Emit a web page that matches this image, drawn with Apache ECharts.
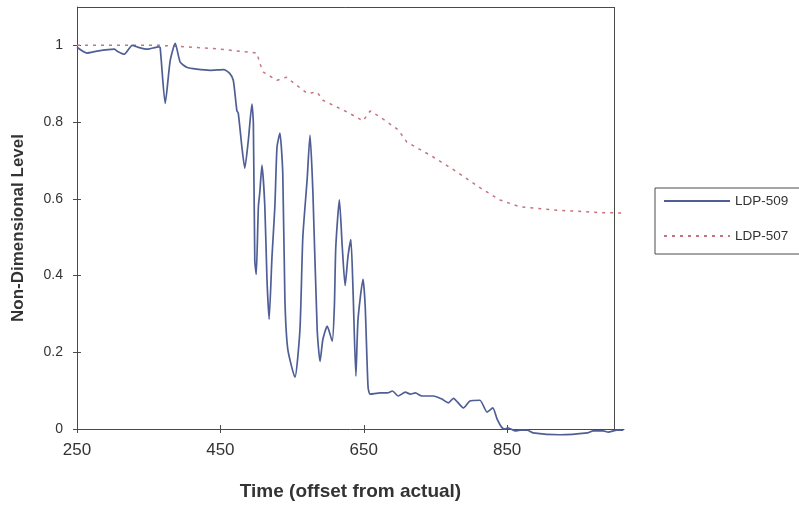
<!DOCTYPE html>
<html>
<head>
<meta charset="utf-8">
<script src="https://cdn.jsdelivr.net/npm/echarts@6/dist/echarts.min.js"></script>
<style>
  html, body { margin: 0; padding: 0; background: #ffffff; }
  #chart { width: 799px; height: 506px; }
</style>
</head>
<body>
<div id="chart"></div>
<script>
// Sensor LDP-509 (solid) – time and non-dimensional level
const time509 = [250, 264, 278, 302, 306, 316, 327, 337, 348, 364, 366, 373, 380, 387, 394, 403, 417, 436, 455, 463, 468, 473, 475, 480, 484, 489, 494, 496, 498, 500, 503, 505, 508, 512, 515, 518, 522, 526, 529, 533, 537, 540, 544, 554, 561, 565, 571, 575, 579, 585, 589, 593, 599, 606, 609, 611, 616, 620, 624, 628, 632, 635, 639, 642, 649, 652, 656, 659, 673, 683, 690, 698, 708, 715, 722, 731, 747, 759, 768, 775, 789, 798, 812, 822, 830, 836, 843, 847, 851, 861, 868, 878, 886, 924, 962, 970, 984, 991, 1003, 1012];
const level509 = [0.995, 0.98, 0.985, 0.99, 0.985, 0.977, 1.0, 0.994, 0.99, 0.996, 0.994, 0.849, 0.96, 1.005, 0.956, 0.943, 0.938, 0.935, 0.937, 0.927, 0.909, 0.83, 0.823, 0.735, 0.68, 0.753, 0.847, 0.797, 0.44, 0.403, 0.58, 0.617, 0.688, 0.58, 0.39, 0.286, 0.45, 0.58, 0.735, 0.771, 0.668, 0.338, 0.208, 0.135, 0.26, 0.5, 0.65, 0.766, 0.62, 0.26, 0.176, 0.234, 0.268, 0.229, 0.32, 0.475, 0.597, 0.475, 0.374, 0.45, 0.494, 0.364, 0.138, 0.286, 0.39, 0.32, 0.109, 0.091, 0.094, 0.094, 0.099, 0.086, 0.096, 0.091, 0.094, 0.086, 0.086, 0.078, 0.068, 0.08, 0.055, 0.073, 0.075, 0.044, 0.055, 0.026, 0.003, 0.0, 0.003, -0.005, -0.003, -0.003, -0.01, -0.015, -0.01, -0.005, -0.005, -0.008, -0.003, -0.003];

// Sensor LDP-507 (dotted)
const time507 = [250, 366, 440, 501, 505, 510, 529, 542, 571, 585, 593, 627, 649, 659, 673, 698, 710, 747, 780, 812, 840, 868, 914, 980, 1015];
const level507 = [1.0, 1.0, 0.992, 0.98, 0.953, 0.93, 0.909, 0.917, 0.875, 0.878, 0.857, 0.826, 0.803, 0.829, 0.813, 0.78, 0.748, 0.709, 0.67, 0.629, 0.597, 0.579, 0.571, 0.564, 0.563];

// Axis tick values
const xTicks = [250, 450, 650, 850];
const yTicks = [0, 0.2, 0.4, 0.6, 0.8, 1];

// Plot frame extent (data runs slightly past the right edge of the frame)
const frameXMax = 1000;
const frameYMax = 1.1;

const pairs = (xs, ys) => xs.map((x, i) => [x, ys[i]]);

const axisColor = '#4a4a4a';
const textColor = '#333333';
const fontFamily = 'Liberation Sans, Arial, sans-serif';

const chart = echarts.init(document.getElementById('chart'), null, { renderer: 'canvas' });

chart.setOption({
  backgroundColor: '#ffffff',
  animation: false,
  grid: { left: 77, top: 7, width: 547, height: 423, show: false },
  legend: {
    orient: 'vertical',
    left: 655, top: 188,
    padding: [6, 40, 11, 8],
    itemWidth: 66, itemHeight: 14, itemGap: 21,
    borderColor: axisColor, borderWidth: 1,
    // line samples only, no marker in the middle
    itemStyle: { opacity: 0, borderWidth: 0 },
    textStyle: { fontFamily, fontSize: 13.5, color: textColor },
    data: ['LDP-509', 'LDP-507']
  },
  xAxis: [{
    type: 'value', min: 250, max: 1013,
    name: 'Time (offset from actual)', nameLocation: 'middle', nameGap: 53,
    nameTextStyle: { fontFamily, fontSize: 19, fontWeight: 'bold', color: textColor },
    axisLine: { show: true, lineStyle: { color: axisColor } },
    axisTick: { show: true, length: 4, customValues: xTicks, lineStyle: { color: axisColor } },
    axisLabel: { customValues: xTicks, fontFamily, fontSize: 17, color: textColor, margin: 13 },
    splitLine: { show: false }
  }, {
    type: 'value', min: 250, max: 1013, position: 'bottom',
    axisLine: { show: false },
    axisTick: { show: true, inside: true, length: 4, customValues: xTicks, lineStyle: { color: axisColor } },
    axisLabel: { show: false },
    splitLine: { show: false }
  }],
  yAxis: [{
    type: 'value', min: 0, max: frameYMax,
    name: 'Non-Dimensional Level', nameLocation: 'middle', nameGap: 50, nameRotate: 90,
    nameTextStyle: { fontFamily, fontSize: 17, fontWeight: 'bold', color: textColor, padding: [0, 20, 0, 0] },
    axisLine: { show: true, lineStyle: { color: axisColor } },
    axisTick: { show: true, length: 4, customValues: yTicks, lineStyle: { color: axisColor } },
    axisLabel: { customValues: yTicks, fontFamily, fontSize: 14, color: textColor, margin: 14 },
    splitLine: { show: false }
  }, {
    type: 'value', min: 0, max: frameYMax, position: 'left',
    axisLine: { show: false },
    axisTick: { show: true, inside: true, length: 4, customValues: yTicks, lineStyle: { color: axisColor } },
    axisLabel: { show: false },
    splitLine: { show: false }
  }],
  series: [{
    name: 'LDP-509', type: 'line', xAxisIndex: 0, yAxisIndex: 0,
    data: pairs(time509, level509),
    symbol: 'none', clip: false, smooth: 0.2,
    lineStyle: { color: '#4f5f95', width: 1.7 },
    itemStyle: { color: '#4f5f95' },
    z: 3,
    // top and right edges of the plot frame
    markLine: {
      silent: true, symbol: 'none', animation: false,
      label: { show: false },
      lineStyle: { color: axisColor, width: 1, type: 'solid' },
      data: [
        [{ coord: [250, frameYMax] }, { coord: [frameXMax, frameYMax] }],
        [{ coord: [frameXMax, 0] }, { coord: [frameXMax, frameYMax] }]
      ]
    }
  }, {
    name: 'LDP-507', type: 'line', xAxisIndex: 0, yAxisIndex: 0,
    data: pairs(time507, level507),
    symbol: 'none', clip: false,
    lineStyle: { color: '#c77480', width: 1.5, type: [3, 5] },
    itemStyle: { color: '#c77480' },
    z: 2
  }]
});
</script>
</body>
</html>
